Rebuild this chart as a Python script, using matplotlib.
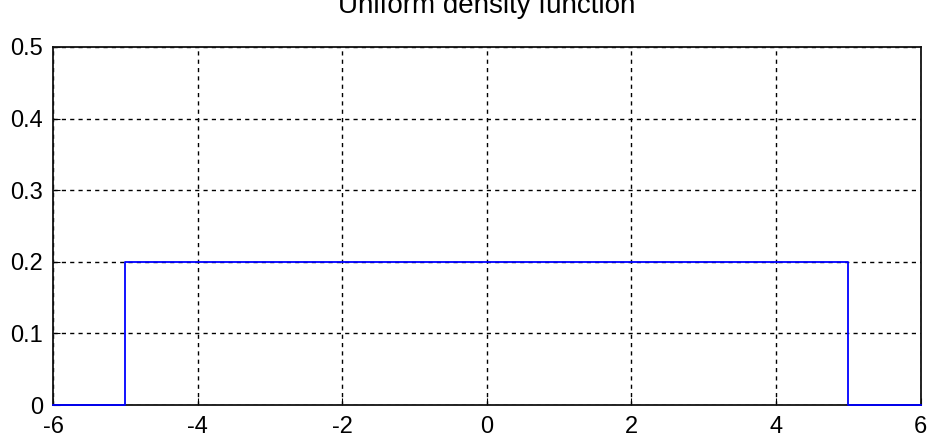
import matplotlib
matplotlib.use("Agg")
import matplotlib.pyplot as plt

# uniform density on [-5, 5]
x_vals = [-6, -5, -5, 5, 5, 6]
y_vals = [0, 0, 0.2, 0.2, 0, 0]
x_ticks = [-6, -4, -2, 0, 2, 4, 6]
y_ticks = [0, 0.1, 0.2, 0.3, 0.4, 0.5]
y_labels = ["0", "0.1", "0.2", "0.3", "0.4", "0.5"]
title = "Uniform density function"

plt.rcParams["font.family"] = ["Liberation Sans", "DejaVu Sans"]
plt.rcParams["axes.unicode_minus"] = False

fig = plt.figure(figsize=(9.3, 4.42), dpi=100)
ax = fig.add_axes([0.057, 0.0837, 0.933, 0.81])

ax.plot(x_vals, y_vals, color="#0000ff", linewidth=1.3, clip_on=False, zorder=5)

ax.set_xlim(-6, 6)
ax.set_ylim(0, 0.5)
ax.set_xticks(x_ticks)
ax.set_yticks(y_ticks)
ax.set_yticklabels(y_labels)
ax.tick_params(direction="in", length=5, labelsize=17, colors="black")
ax.tick_params(axis="x", pad=8)
ax.tick_params(axis="y", pad=7)
ax.grid(True, color="black", linestyle=(0, (3, 3)), linewidth=1.0)
for s in ax.spines.values():
    s.set_linewidth(1.3)
    s.set_color("#111111")

fig.text(0.5237, 1 - 13 / 442, title, ha="center", va="baseline", fontsize=20)

fig.savefig("out.png", dpi=100)
